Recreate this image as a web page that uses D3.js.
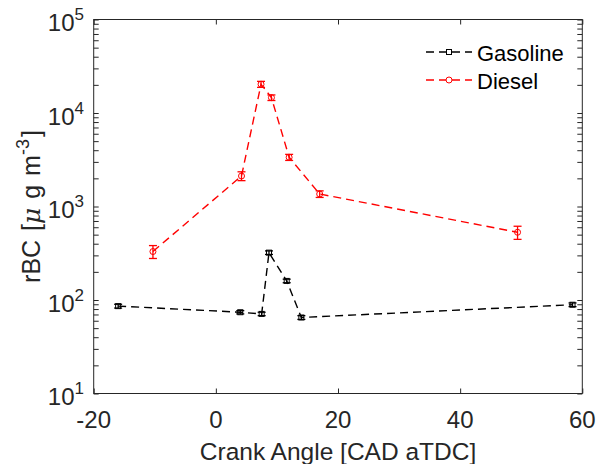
<html>
<head>
  <meta charset="utf-8">
  <title>rBC vs crank angle</title>
  <script src="https://d3js.org/d3.v7.min.js"></script>
  <style>
    body { margin: 0; background: #fff; }
    text { font-family: "Liberation Sans", Arial, sans-serif; fill: #262626; }
  </style>
</head>
<body>
  <svg width="596" height="464"></svg>
  <script>
    // values
    const gasolineCA = [-16, 4, 7.5, 8.7, 11.6, 14, 58.4];
    const gasolineBC = [86, 74, 71, 321, 160, 65, 89];
    const gasolineErr = [4, 3, 3, 14, 7, 3, 4];

    const dieselCA = [-10.3, 4.2, 7.4, 9.1, 12, 17, 49.4];
    const dieselBC = [330, 2120, 20300, 14600, 3360, 1360, 530];
    const dieselErr = [52, 230, 1500, 1000, 250, 110, 85];

    const xTicks = [-20, 0, 20, 40, 60];
    const yDecades = [1, 2, 3, 4, 5];

    const svg = d3.select("svg");
    const plotL = 93.7, plotR = 582.3, plotT = 19.5, plotB = 393.5;
    const axisColor = "#262626";

    const x = d3.scaleLinear().domain([-20, 60]).range([plotL, plotR]);
    const y = d3.scaleLog().domain([10, 1e5]).range([plotB, plotT]);

    // minor + major log ticks
    const yTickVals = [];
    for (let e = 1; e < 5; e++) {
      for (let m = 1; m < 10; m++) yTickVals.push(m * Math.pow(10, e));
    }
    yTickVals.push(1e5);

    function styleAxis(g) {
      g.select(".domain").remove();
      g.selectAll("line").attr("stroke", axisColor).attr("stroke-width", 1);
      g.selectAll("text").remove();
    }

    svg.append("g").attr("transform", `translate(${plotL},0)`)
      .call(d3.axisRight(y).tickValues(yTickVals).tickSize(5).tickFormat(""))
      .call(styleAxis);
    svg.append("g").attr("transform", `translate(${plotR},0)`)
      .call(d3.axisLeft(y).tickValues(yTickVals).tickSize(5).tickFormat(""))
      .call(styleAxis);
    svg.append("g").attr("transform", `translate(0,${plotB})`)
      .call(d3.axisTop(x).tickValues(xTicks).tickSize(5).tickFormat(""))
      .call(styleAxis);
    svg.append("g").attr("transform", `translate(0,${plotT})`)
      .call(d3.axisBottom(x).tickValues(xTicks).tickSize(5).tickFormat(""))
      .call(styleAxis);

    svg.append("rect")
      .attr("x", plotL).attr("y", plotT)
      .attr("width", plotR - plotL).attr("height", plotB - plotT)
      .attr("fill", "none").attr("stroke", axisColor).attr("stroke-width", 1);

    // x tick labels
    svg.selectAll(".xlab").data(xTicks).enter().append("text")
      .attr("x", d => x(d)).attr("y", 428)
      .attr("text-anchor", "middle").attr("font-size", 24)
      .text(d => d);

    // y tick labels 10^n
    const yl = svg.selectAll(".ylab").data(yDecades).enter().append("text")
      .attr("x", 84).attr("y", d => y(Math.pow(10, d)) + 11.5)
      .attr("text-anchor", "end").attr("font-size", 24);
    yl.append("tspan").text("10");
    yl.append("tspan").attr("dy", -11).attr("font-size", 17).text(d => d);

    // axis labels
    svg.append("text")
      .attr("x", (plotL + plotR) / 2).attr("y", 460)
      .attr("text-anchor", "middle").attr("font-size", 24.5)
      .text("Crank Angle [CAD aTDC]");

    const ylab = svg.append("text")
      .attr("transform", `translate(40,${(plotT + plotB) / 2}) rotate(-90)`)
      .attr("text-anchor", "middle").attr("font-size", 25)
      .attr("word-spacing", 2);
    ylab.append("tspan").text("rBC [");
    ylab.append("tspan").attr("font-style", "italic").attr("font-family", "DejaVu Serif").text("\u03bc");
    ylab.append("tspan").text(" g m");
    ylab.append("tspan").attr("dy", -11).attr("font-size", 18).text("-3");
    ylab.append("tspan").attr("dy", 11).attr("dx", 2).text("]");

    const gasoline = gasolineCA.map((c, i) => ({ x: c, y: gasolineBC[i], e: gasolineErr[i] }));
    const diesel = dieselCA.map((c, i) => ({ x: c, y: dieselBC[i], e: dieselErr[i] }));

    const line = d3.line().x(d => x(d.x)).y(d => y(d.y));

    function drawSeries(data, color, shape) {
      const g = svg.append("g");
      g.append("path").datum(data)
        .attr("d", line).attr("fill", "none")
        .attr("stroke", color).attr("stroke-width", 1.4)
        .attr("stroke-dasharray", "8,5");

      const eb = g.selectAll(".eb").data(data).enter().append("g")
        .attr("stroke", color).attr("stroke-width", 1.3);
      eb.append("line")
        .attr("x1", d => x(d.x)).attr("x2", d => x(d.x))
        .attr("y1", d => y(d.y + d.e)).attr("y2", d => y(d.y - d.e));
      eb.append("line")
        .attr("x1", d => x(d.x) - 4).attr("x2", d => x(d.x) + 4)
        .attr("y1", d => y(d.y + d.e)).attr("y2", d => y(d.y + d.e));
      eb.append("line")
        .attr("x1", d => x(d.x) - 4).attr("x2", d => x(d.x) + 4)
        .attr("y1", d => y(d.y - d.e)).attr("y2", d => y(d.y - d.e));

      if (shape === "square") {
        g.selectAll(".mk").data(data).enter().append("rect")
          .attr("x", d => x(d.x) - 2.5).attr("y", d => y(d.y) - 2.5)
          .attr("width", 5).attr("height", 5)
          .attr("fill", "none").attr("stroke", color).attr("stroke-width", 1);
      } else {
        g.selectAll(".mk").data(data).enter().append("circle")
          .attr("cx", d => x(d.x)).attr("cy", d => y(d.y)).attr("r", 3)
          .attr("fill", "none").attr("stroke", color).attr("stroke-width", 1);
      }
    }

    drawSeries(gasoline, "#000", "square");
    drawSeries(diesel, "#ff0000", "circle");

    // legend
    const legend = [
      { name: "Gasoline", color: "#000", shape: "square", y: 52 },
      { name: "Diesel", color: "#ff0000", shape: "circle", y: 80 }
    ];
    legend.forEach(l => {
      svg.append("line")
        .attr("x1", 426).attr("x2", 472).attr("y1", l.y).attr("y2", l.y)
        .attr("stroke", l.color).attr("stroke-width", 1.4)
        .attr("stroke-dasharray", "8,5");
      if (l.shape === "square") {
        svg.append("rect").attr("x", 446.5).attr("y", l.y - 2.5)
          .attr("width", 5).attr("height", 5)
          .attr("fill", "#fff").attr("stroke", l.color);
      } else {
        svg.append("circle").attr("cx", 449).attr("cy", l.y).attr("r", 3)
          .attr("fill", "#fff").attr("stroke", l.color);
      }
      svg.append("text").attr("x", 477).attr("y", l.y + 8.5)
        .attr("font-size", 22).style("fill", "#000").text(l.name);
    });
  </script>
</body>
</html>
